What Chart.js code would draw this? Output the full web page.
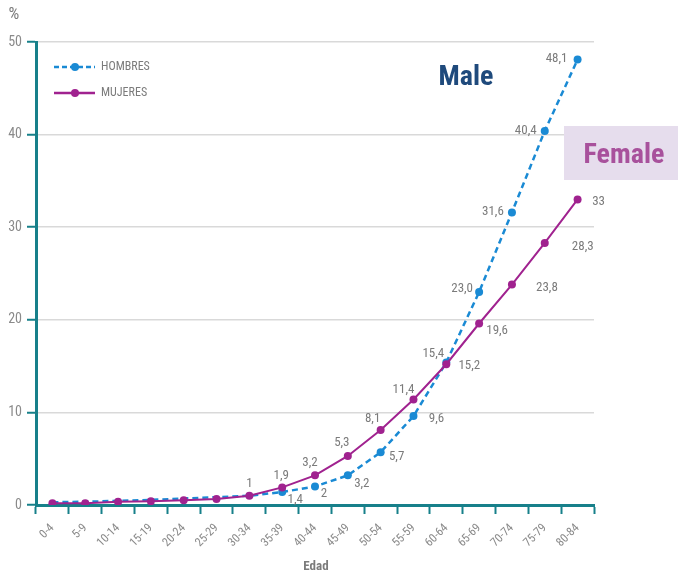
<!DOCTYPE html>
<html>
<head>
<meta charset="utf-8">
<script src="https://cdn.jsdelivr.net/npm/chart.js@4/dist/chart.umd.min.js"></script>
<style>
  html, body { margin: 0; padding: 0; background: #fff; }
  #wrap { position: relative; width: 678px; height: 576px; }
</style>
</head>
<body>
<div id="wrap"><canvas id="chart" width="678" height="576"></canvas></div>
<script>
// Age groups and rates (%)
const ageGroups = ["0-4", "5-9", "10-14", "15-19", "20-24", "25-29", "30-34", "35-39", "40-44",
  "45-49", "50-54", "55-59", "60-64", "65-69", "70-74", "75-79", "80-84"];
const hombres = [0.3, 0.35, 0.45, 0.55, 0.7, 0.85, 1.0, 1.4, 2.0, 3.2, 5.7, 9.6, 15.4, 23.0, 31.6, 40.4, 48.1];
const mujeres = [0.2, 0.2, 0.35, 0.4, 0.5, 0.65, 1.0, 1.9, 3.2, 5.3, 8.1, 11.4, 15.2, 19.6, 23.8, 28.3, 33.0];
const hombresText = [null, null, null, null, null, null, null, "1,4", "2", "3,2", "5,7", "9,6", "15,4", "23,0", "31,6", "40,4", "48,1"];
const mujeresText = [null, null, null, null, null, null, "1", "1,9", "3,2", "5,3", "8,1", "11,4", "15,2", "19,6", "23,8", "28,3", "33"];
const yTicks = [0, 10, 20, 30, 40, 50];

// label placement relative to each point
const hombresOffsets = [null, null, null, null, null, null, null, [13, 8], [9, 7], [14, 8], [16, 5], [23, 3],
  [-13, -9], [-17, -3], [-19, -1], [-19, 0], [-21, -1]];
const mujeresOffsets = [null, null, null, null, null, null, [0, -12], [-1, -12], [-5, -13], [-6, -13], [-8, -11],
  [-10, -10], [23, 2], [18, 7], [35, 3], [38, 4], [21, 2]];

const FONT = "'Liberation Sans Narrow', 'Roboto Condensed', 'DejaVu Sans Condensed', Roboto, sans-serif";
const BLUE = "#1a8ad4";
const PURPLE = "#a0228f";
const TEAL = "#17808a";
const GREY = "#7b7b7b";

const extras = {
  id: "extras",
  afterDatasetsDraw(chart) {
    const c = chart.ctx;
    c.save();
    // data labels
    c.font = "13px " + FONT;
    c.fillStyle = GREY;
    c.textAlign = "center";
    c.textBaseline = "middle";
    [[0, hombresText, hombresOffsets], [1, mujeresText, mujeresOffsets]].forEach(([di, texts, offs]) => {
      const meta = chart.getDatasetMeta(di);
      meta.data.forEach((pt, i) => {
        if (!texts[i]) return;
        c.fillText(texts[i], pt.x + offs[i][0], pt.y + offs[i][1]);
      });
    });

    // legend
    const items = [["HOMBRES", BLUE, [5, 3], 67], ["MUJERES", PURPLE, [], 93]];
    items.forEach(([txt, col, dash, y]) => {
      c.strokeStyle = col;
      c.lineWidth = 2.5;
      c.setLineDash(dash);
      c.beginPath();
      c.moveTo(54, y);
      c.lineTo(95, y);
      c.stroke();
      c.setLineDash([]);
      c.fillStyle = col;
      c.beginPath();
      c.arc(75, y, 4, 0, Math.PI * 2);
      c.fill();
      c.fillStyle = GREY;
      c.font = "12px " + FONT;
      c.textAlign = "left";
      c.fillText(txt, 101, y);
    });

    // % unit and axis title
    c.fillStyle = GREY;
    c.font = "17px " + FONT;
    c.textAlign = "center";
    c.fillText("%", 14, 15);
    c.font = "bold 13px " + FONT;
    c.fillText("Edad", 316, 567);

    // Male / Female annotations
    c.font = "bold 28px " + FONT;
    c.fillStyle = "#1f4a7c";
    c.fillText("Male", 466, 78);
    c.fillStyle = "#e6dded";
    c.fillRect(564, 126, 114, 54);
    c.fillStyle = "#a8519c";
    c.fillText("Female", 624, 156);
    c.restore();
  }
};

new Chart(document.getElementById("chart"), {
  type: "line",
  data: {
    labels: ageGroups,
    datasets: [
      {
        label: "HOMBRES",
        data: hombres,
        order: 1,
        borderColor: BLUE,
        backgroundColor: BLUE,
        borderWidth: 2.5,
        borderDash: [6, 4],
        pointRadius: (ctx) => (ctx.dataIndex < 7 ? 0 : 4),
        pointBorderWidth: 0,
        pointBackgroundColor: BLUE,
        tension: 0
      },
      {
        label: "MUJERES",
        data: mujeres,
        order: 0,
        borderColor: PURPLE,
        backgroundColor: PURPLE,
        borderWidth: 2,
        pointRadius: 4,
        pointBorderWidth: 0,
        pointBackgroundColor: PURPLE,
        tension: 0
      }
    ]
  },
  options: {
    responsive: false,
    animation: false,
    layout: { padding: { top: 42, right: 84, left: 0, bottom: 0 } },
    plugins: { legend: { display: false }, tooltip: { enabled: false } },
    scales: {
      x: {
        offset: true,
        afterFit(scale) { scale.height = 71; },
        grid: {
          offset: true,
          drawOnChartArea: false,
          tickColor: TEAL,
          tickWidth: 2,
          tickLength: 9
        },
        border: { color: TEAL, width: 3 },
        ticks: {
          minRotation: 45,
          maxRotation: 45,
          padding: 7,
          color: "#8a8a8a",
          font: { family: FONT, size: 12 }
        }
      },
      y: {
        min: 0,
        max: 50,
        afterFit(scale) { scale.width = 36; },
        afterBuildTicks(scale) { scale.ticks = yTicks.map((v) => ({ value: v })); },
        grid: {
          color: "#d9d9d9",
          lineWidth: 1.5,
          tickColor: TEAL,
          tickWidth: 2,
          tickLength: 9
        },
        border: { color: TEAL, width: 3 },
        ticks: {
          padding: 5,
          color: "#8a8a8a",
          font: { family: FONT, size: 14 }
        }
      }
    }
  },
  plugins: [extras]
});
</script>
</body>
</html>
